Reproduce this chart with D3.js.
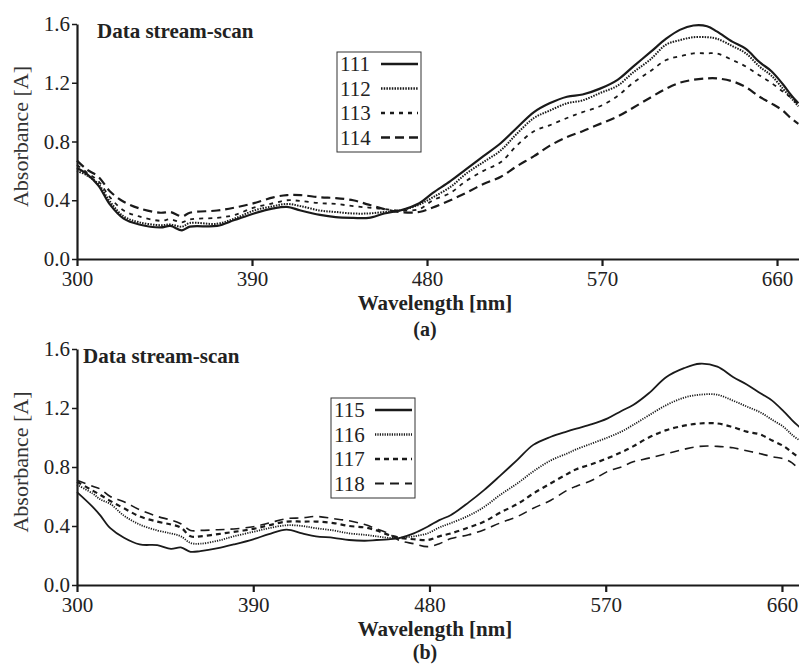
<!DOCTYPE html>
<html>
<head>
<meta charset="utf-8">
<script src="https://cdn.jsdelivr.net/npm/d3@7"></script>
<style>
  body { margin: 0; background: #fff; }
  svg text { font-family: "Liberation Serif", "Times New Roman", serif; }
</style>
</head>
<body>
<div class="chart"></div>
<script>
// panel (a) spectra
var wlA = [300, 305, 311, 317, 324, 332, 343, 348, 354, 358, 372, 381, 391, 401, 408, 415, 425, 433, 442, 450,
  458, 466, 476, 483, 492, 500, 509, 518, 526, 535, 543, 552, 560, 569, 578, 586, 595, 603, 610, 617,
  624, 629, 637, 644, 651, 657, 663, 667, 671];
var s111 = [0.62, 0.58, 0.50, 0.37, 0.275, 0.235, 0.215, 0.225, 0.195, 0.22, 0.225, 0.265, 0.31, 0.345, 0.355, 0.33, 0.30, 0.285, 0.28, 0.28,
  0.31, 0.33, 0.38, 0.45, 0.53, 0.61, 0.70, 0.79, 0.89, 1.00, 1.06, 1.105, 1.12, 1.16, 1.22, 1.31, 1.41, 1.50, 1.56, 1.59,
  1.585, 1.55, 1.48, 1.43, 1.34, 1.28, 1.19, 1.12, 1.06];
var s112 = [0.60, 0.57, 0.51, 0.39, 0.29, 0.25, 0.23, 0.235, 0.22, 0.245, 0.24, 0.275, 0.33, 0.36, 0.375, 0.36, 0.33, 0.32, 0.31, 0.31,
  0.32, 0.33, 0.37, 0.42, 0.49, 0.58, 0.66, 0.74, 0.85, 0.96, 1.01, 1.06, 1.08, 1.13, 1.18, 1.27, 1.36, 1.46, 1.49, 1.51,
  1.51, 1.50, 1.45, 1.40, 1.31, 1.25, 1.16, 1.10, 1.04];
var s113 = [0.64, 0.59, 0.53, 0.42, 0.33, 0.29, 0.26, 0.27, 0.25, 0.27, 0.28, 0.30, 0.35, 0.38, 0.40, 0.395, 0.38, 0.375, 0.36, 0.35,
  0.34, 0.33, 0.34, 0.40, 0.45, 0.53, 0.60, 0.66, 0.77, 0.87, 0.91, 0.96, 1.00, 1.04, 1.11, 1.20, 1.28, 1.355, 1.38, 1.40,
  1.40, 1.40, 1.355, 1.31, 1.25, 1.20, 1.14, 1.10, 1.05];
var s114 = [0.67, 0.61, 0.56, 0.46, 0.39, 0.345, 0.315, 0.32, 0.29, 0.315, 0.33, 0.35, 0.38, 0.42, 0.435, 0.435, 0.42, 0.415, 0.40, 0.37,
  0.34, 0.32, 0.32, 0.35, 0.40, 0.45, 0.51, 0.56, 0.63, 0.70, 0.77, 0.83, 0.87, 0.92, 0.97, 1.03, 1.10, 1.16, 1.20, 1.22,
  1.23, 1.23, 1.21, 1.17, 1.105, 1.06, 1.01, 0.96, 0.92];

// panel (b) spectra
var wlB = [300, 308, 312, 317, 324, 332, 341, 348, 353, 358, 363, 372, 380, 390, 398, 407, 415, 422, 431, 439,
  447, 453, 459, 465, 472, 479, 485, 491, 500, 508, 516, 525, 533, 542, 550, 555, 563, 571, 578, 584,
  592, 601, 610, 618, 627, 635, 642, 649, 655, 661, 665, 669];
var s115 = [0.63, 0.53, 0.47, 0.385, 0.32, 0.275, 0.27, 0.245, 0.255, 0.225, 0.23, 0.25, 0.275, 0.31, 0.345, 0.375, 0.35, 0.33, 0.32, 0.305,
  0.30, 0.305, 0.31, 0.32, 0.35, 0.395, 0.44, 0.475, 0.56, 0.645, 0.74, 0.85, 0.95, 1.005, 1.04, 1.06, 1.09, 1.13, 1.18, 1.22,
  1.30, 1.41, 1.47, 1.50, 1.48, 1.41, 1.36, 1.30, 1.25, 1.175, 1.12, 1.07];
var s116 = [0.68, 0.62, 0.58, 0.55, 0.47, 0.41, 0.37, 0.35, 0.33, 0.285, 0.28, 0.30, 0.33, 0.36, 0.385, 0.405, 0.40, 0.385, 0.37, 0.35,
  0.34, 0.33, 0.32, 0.32, 0.33, 0.35, 0.39, 0.42, 0.47, 0.53, 0.61, 0.69, 0.77, 0.845, 0.89, 0.92, 0.96, 1.00, 1.04, 1.085,
  1.15, 1.22, 1.27, 1.29, 1.29, 1.25, 1.21, 1.17, 1.12, 1.07, 1.02, 0.98];
var s117 = [0.70, 0.64, 0.61, 0.57, 0.52, 0.465, 0.43, 0.41, 0.39, 0.33, 0.33, 0.345, 0.36, 0.38, 0.405, 0.43, 0.43, 0.43, 0.42, 0.40,
  0.39, 0.37, 0.34, 0.32, 0.31, 0.305, 0.33, 0.35, 0.39, 0.43, 0.49, 0.55, 0.62, 0.69, 0.75, 0.785, 0.82, 0.86, 0.90, 0.94,
  1.00, 1.05, 1.08, 1.095, 1.095, 1.07, 1.04, 1.02, 0.98, 0.94, 0.90, 0.86];
var s118 = [0.71, 0.67, 0.65, 0.60, 0.565, 0.51, 0.465, 0.44, 0.415, 0.37, 0.37, 0.375, 0.38, 0.395, 0.42, 0.45, 0.455, 0.465, 0.45, 0.435,
  0.41, 0.38, 0.35, 0.30, 0.28, 0.26, 0.28, 0.315, 0.34, 0.375, 0.42, 0.465, 0.52, 0.575, 0.64, 0.67, 0.71, 0.77, 0.80, 0.835,
  0.86, 0.89, 0.92, 0.94, 0.94, 0.93, 0.91, 0.89, 0.87, 0.855, 0.83, 0.78];

var xTicks = [300, 390, 480, 570, 660];
var yTicks = [0, 0.4, 0.8, 1.2, 1.6];

var svg = d3.select(".chart").append("svg")
    .attr("width", 799)
    .attr("height", 664);

function drawPanel(p) {
    var x = d3.scaleLinear().domain(p.xDomain).range([p.left, 799]);
    var y = d3.scaleLinear().domain([0, 1.6]).range([p.bottom, p.top]);
    var g = svg.append("g");

    var line = d3.line()
        .x(function (d) { return x(d[0]); })
        .y(function (d) { return y(d[1]); })
        .curve(d3.curveCatmullRom.alpha(0.5));

    p.series.forEach(function (s) {
        g.append("path")
            .datum(p.wl.map(function (w, i) { return [w, s.values[i]]; }))
            .attr("fill", "none")
            .attr("stroke", "#1a1a1a")
            .attr("stroke-width", s.width)
            .attr("stroke-dasharray", s.dash)
            .attr("d", line);
    });

    // x axis
    var xAxis = g.append("g")
        .attr("transform", "translate(0," + p.bottom + ")")
        .call(d3.axisBottom(x).tickValues(xTicks).tickSize(7).tickSizeOuter(0).tickPadding(5)
            .tickFormat(d3.format("d")));
    xAxis.select(".domain").attr("stroke-width", 2.2).attr("stroke", "#1a1a1a");
    xAxis.selectAll(".tick line").attr("stroke-width", 2.2).attr("stroke", "#1a1a1a");
    xAxis.selectAll(".tick text").attr("font-size", 21).attr("fill", "#222");

    // y axis
    var yAxis = g.append("g")
        .attr("transform", "translate(" + p.left + ",0)")
        .call(d3.axisLeft(y).tickValues(yTicks).tickSize(5).tickSizeOuter(0).tickPadding(2)
            .tickFormat(d3.format(".1f")));
    yAxis.select(".domain").attr("stroke-width", 2.2).attr("stroke", "#1a1a1a");
    yAxis.selectAll(".tick line").attr("stroke-width", 1.5).attr("stroke", "#1a1a1a");
    yAxis.selectAll(".tick text").attr("font-size", 21).attr("fill", "#222");

    // axis titles
    g.append("text")
        .attr("x", 435)
        .attr("y", p.bottom + 51)
        .attr("text-anchor", "middle")
        .attr("font-size", 21)
        .attr("font-weight", "bold")
        .attr("fill", "#222")
        .text("Wavelength [nm]");

    g.append("text")
        .attr("x", 425)
        .attr("y", p.tagY)
        .attr("text-anchor", "middle")
        .attr("font-size", 20)
        .attr("font-weight", "bold")
        .attr("fill", "#222")
        .text(p.tag);

    g.append("text")
        .attr("transform", "rotate(-90)")
        .attr("x", -(p.top + p.bottom) / 2 + 5)
        .attr("y", 28)
        .attr("text-anchor", "middle")
        .attr("font-size", 22)
        .attr("fill", "#333")
        .text("Absorbance [A]");

    g.append("text")
        .attr("x", p.titleX)
        .attr("y", p.top + 14)
        .attr("font-size", 21)
        .attr("font-weight", "bold")
        .attr("fill", "#222")
        .text("Data stream-scan");

    // legend
    var lg = g.append("g").attr("transform", "translate(" + p.legX + "," + p.legY + ")");
    lg.append("rect")
        .attr("width", p.legW)
        .attr("height", 100)
        .attr("fill", "#fff")
        .attr("stroke", "#333")
        .attr("stroke-width", 1);
    p.series.forEach(function (s, i) {
        var cy = 12 + i * 24.5;
        lg.append("text")
            .attr("x", 3)
            .attr("y", cy + 7)
            .attr("font-size", 21)
            .attr("fill", "#222")
            .text(s.name);
        lg.append("line")
            .attr("x1", 44).attr("x2", p.legW - 3)
            .attr("y1", cy).attr("y2", cy)
            .attr("stroke", "#1a1a1a")
            .attr("stroke-width", s.width + 0.5)
            .attr("stroke-dasharray", s.dash);
    });
}

drawPanel({
    wl: wlA, xDomain: [300, 671.3], left: 77, top: 24, bottom: 259, tag: "(a)", tagY: 336, titleX: 97,
    legX: 337, legY: 52, legW: 84,
    series: [
        { name: "111", values: s111, width: 2.2, dash: null },
        { name: "112", values: s112, width: 2, dash: "1.5,1.2" },
        { name: "113", values: s113, width: 1.8, dash: "4,5" },
        { name: "114", values: s114, width: 2.2, dash: "9,5" }
    ]
});

drawPanel({
    wl: wlB, xDomain: [300, 668.7], left: 77, top: 349, bottom: 585, tag: "(b)", tagY: 659, titleX: 83,
    legX: 331, legY: 398, legW: 84,
    series: [
        { name: "115", values: s115, width: 1.8, dash: null },
        { name: "116", values: s116, width: 1.8, dash: "1.2,1.2" },
        { name: "117", values: s117, width: 2.2, dash: "5,4" },
        { name: "118", values: s118, width: 1.6, dash: "9,6" }
    ]
});
</script>
</body>
</html>
